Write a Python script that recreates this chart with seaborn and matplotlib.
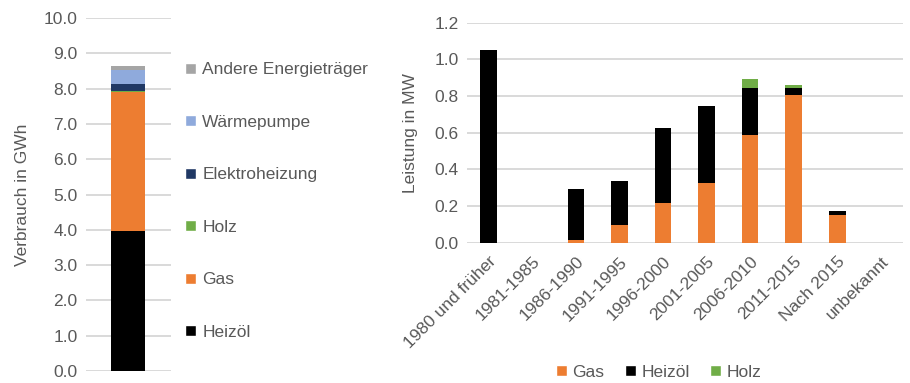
import pandas as pd
import seaborn as sns
import matplotlib.pyplot as plt
from matplotlib.patches import Patch

# Verbrauch nach Energieträger (GWh), von unten nach oben gestapelt
traeger = ["Heizöl", "Gas", "Holz", "Elektroheizung", "Wärmepumpe", "Andere Energieträger"]
verbrauch = [3.97, 3.92, 0.04, 0.21, 0.39, 0.12]
traeger_farben = ["#000000", "#ED7D31", "#70AD47", "#203864", "#8FAADC", "#A5A5A5"]

# Leistung nach Bauperiode (MW)
perioden = ["1980 und früher", "1981-1985", "1986-1990", "1991-1995", "1996-2000",
            "2001-2005", "2006-2010", "2011-2015", "Nach 2015", "unbekannt"]
gas = [0.0, 0.0, 0.015, 0.097, 0.218, 0.326, 0.588, 0.804, 0.151, 0.0]
heizoel = [1.05, 0.0, 0.28, 0.24, 0.41, 0.42, 0.258, 0.042, 0.024, 0.0]
holz = [0.0, 0.0, 0.0, 0.0, 0.0, 0.0, 0.045, 0.013, 0.0, 0.0]

grau = "#595959"
gitter = "#D9D9D9"

sns.set_style("white")
plt.rcParams["font.family"] = ["Liberation Sans", "DejaVu Sans"]
plt.rcParams["font.size"] = 12.5
plt.rcParams["text.color"] = grau
plt.rcParams["axes.labelcolor"] = grau
plt.rcParams["xtick.color"] = grau
plt.rcParams["ytick.color"] = grau

fig = plt.figure(figsize=(9.1, 3.83), dpi=100)
ax1 = fig.add_axes([0.0945, 0.0313, 0.0934, 0.9217])
ax2 = fig.add_axes([0.513, 0.3663, 0.479, 0.5744])

# linkes Diagramm: ein gestapelter Balken
unten = 0.0
for name, wert, farbe in zip(traeger, verbrauch, traeger_farben):
    sns.barplot(x=["Total"], y=[wert], bottom=unten, color=farbe, width=0.4,
                saturation=1, errorbar=None, linewidth=0, ax=ax1)
    unten += wert
ax1.set_ylim(0, 10)
ax1.set_yticks([i * 1.0 for i in range(11)])
ax1.set_yticklabels([f"{i:.1f}" for i in range(11)])
ax1.set_xticks([])
ax1.set_xlabel("")
ax1.set_ylabel("Verbrauch in GWh", labelpad=10)

handles1 = [Patch(facecolor=f, label=n) for n, f in zip(traeger, traeger_farben)][::-1]
fig.legend(handles=handles1, loc="upper left", bbox_to_anchor=(0.196, 0.855),
           frameon=False, handlelength=0.62, handleheight=0.62, handletextpad=0.35,
           labelspacing=2.16, borderaxespad=0)

# rechtes Diagramm: Leistung nach Bauperiode
unten2 = [0.0] * len(perioden)
for name, werte, farbe in [("Gas", gas, "#ED7D31"), ("Heizöl", heizoel, "#000000"),
                           ("Holz", holz, "#70AD47")]:
    sns.barplot(x=perioden, y=werte, bottom=unten2, color=farbe, width=0.38,
                saturation=1, errorbar=None, linewidth=0, order=perioden, ax=ax2)
    unten2 = [a + b for a, b in zip(unten2, werte)]
ax2.set_ylim(0, 1.2)
ax2.set_yticks([0, 0.2, 0.4, 0.6, 0.8, 1.0, 1.2])
ax2.set_yticklabels([f"{v:.1f}" for v in [0, 0.2, 0.4, 0.6, 0.8, 1.0, 1.2]])
ax2.set_xlabel("")
ax2.set_ylabel("Leistung in MW", labelpad=12)
plt.setp(ax2.get_xticklabels(), rotation=45, ha="right", rotation_mode="anchor")

handles2 = [Patch(facecolor=f, label=n) for n, f in
            [("Gas", "#ED7D31"), ("Heizöl", "#000000"), ("Holz", "#70AD47")]]
fig.legend(handles=handles2, loc="center", bbox_to_anchor=(0.724, 0.028), ncol=3,
           frameon=False, handlelength=0.62, handleheight=0.62, handletextpad=0.3,
           columnspacing=1.2, borderaxespad=0)

for ax in (ax1, ax2):
    for s in ax.spines.values():
        s.set_visible(False)
    ax.grid(axis="y", color=gitter, linewidth=1.4)
    ax.set_axisbelow(True)
    ax.tick_params(length=0, pad=6)
ax2.tick_params(axis="x", pad=8)

fig.savefig("out.png", dpi=100)
